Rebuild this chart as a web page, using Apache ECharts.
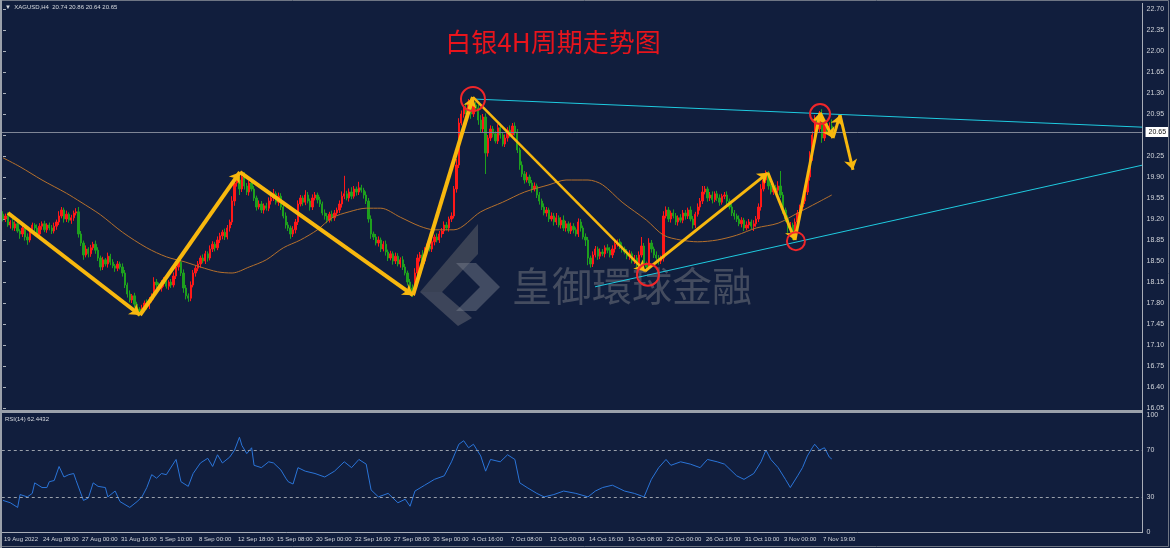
<!DOCTYPE html>
<html><head><meta charset="utf-8">
<script src="https://cdn.jsdelivr.net/npm/echarts@6/dist/echarts.min.js"></script>
<style>html,body{margin:0;padding:0;background:#111e3d}#c{width:1170px;height:548px}</style>
</head><body><div id="c"></div><script>
// ---------- data ----------
const tickLabels = ['19 Aug 2022','24 Aug 08:00','27 Aug 00:00','31 Aug 16:00','5 Sep 10:00','8 Sep 00:00','12 Sep 18:00','15 Sep 08:00','20 Sep 00:00','22 Sep 16:00','27 Sep 08:00','30 Sep 00:00','4 Oct 16:00','7 Oct 08:00','12 Oct 00:00','14 Oct 16:00','19 Oct 08:00','22 Oct 00:00','26 Oct 16:00','31 Oct 10:00','3 Nov 00:00','7 Nov 19:00'];
const firstOpen = 19.28;
const closes = [
19.20,19.25,19.10,19.15,19.05,19.12,19.00,18.95,19.05,18.90,
18.85,19.00,19.10,19.05,18.95,19.08,19.12,19.02,19.10,19.05,
19.00,19.08,19.15,19.25,19.35,19.20,19.28,19.18,19.22,19.30,
19.32,18.95,18.80,18.60,18.70,18.62,18.72,18.78,18.68,18.55,
18.40,18.52,18.45,18.58,18.48,18.42,18.38,18.45,18.40,18.30,
18.10,17.95,17.85,17.92,17.78,17.70,17.65,17.72,17.80,17.75,
17.85,17.92,18.15,18.10,18.05,18.12,18.18,18.08,18.15,18.10,
18.25,18.40,18.48,18.30,18.05,17.92,17.88,18.10,18.30,18.38,
18.45,18.55,18.50,18.62,18.55,18.70,18.78,18.72,18.85,18.92,
18.98,18.90,19.05,19.15,19.50,19.80,19.85,19.70,19.90,19.75,
19.65,19.80,19.70,19.55,19.40,19.45,19.35,19.42,19.38,19.50,
19.55,19.62,19.48,19.58,19.40,19.25,19.10,19.05,18.95,19.02,
19.15,19.45,19.55,19.48,19.60,19.50,19.40,19.55,19.60,19.52,
19.45,19.30,19.25,19.18,19.28,19.22,19.30,19.35,19.45,19.58,
19.62,19.55,19.65,19.58,19.70,19.65,19.72,19.68,19.60,19.50,
19.20,18.95,18.90,18.80,18.85,18.70,18.78,18.65,18.55,18.62,
18.50,18.58,18.45,18.52,18.40,18.30,18.15,18.05,17.98,18.30,
18.55,18.60,18.50,18.68,18.75,18.70,18.82,18.90,18.85,18.95,
19.00,19.10,19.05,19.20,19.25,19.70,20.10,20.80,20.95,21.05,
21.00,21.15,20.95,21.10,21.05,20.85,20.70,20.90,20.30,20.55,
20.70,20.62,20.50,20.72,20.60,20.45,20.55,20.68,20.60,20.75,
20.65,20.35,20.10,19.95,19.85,19.90,19.80,19.70,19.75,19.60,
19.50,19.40,19.30,19.35,19.20,19.25,19.15,19.22,19.10,19.18,
19.05,19.12,19.00,19.08,19.02,18.95,19.15,19.05,18.90,18.85,
18.55,18.45,18.60,18.70,18.58,18.65,18.62,18.72,18.68,18.60,
18.70,18.78,18.82,18.75,18.70,18.65,18.58,18.62,18.50,18.55,
18.45,18.60,18.75,18.45,18.40,18.80,18.70,18.60,18.55,18.50,
18.55,19.25,19.35,19.20,19.30,19.25,19.15,19.22,19.18,19.30,
19.25,19.35,19.20,19.10,19.28,19.40,19.50,19.65,19.70,19.55,
19.60,19.52,19.62,19.55,19.48,19.58,19.60,19.50,19.40,19.30,
19.25,19.20,19.12,19.18,19.05,19.10,19.15,19.08,19.12,19.20,
19.40,19.70,19.85,19.95,19.75,19.65,19.72,19.68,19.75,19.60,
19.35,19.20,19.05,19.10,18.95,19.15,19.30,19.40,19.50,19.65,
19.90,20.25,20.60,20.85,20.70,20.95,20.55,20.80,20.70,20.75,20.65];
// wick lengths in cents above max(open,close) / below min(open,close)
const upperWicks = [
5,4,6,3,5,4,6,3,5,4, 6,5,4,3,6,5,4,5,3,4, 5,6,4,8,5,4,6,3,5,4, 6,8,5,4,6,3,5,4,6,5,
4,5,3,6,4,5,3,5,4,6, 5,4,6,3,5,4,3,5,4,6, 5,4,8,5,4,6,5,4,3,5, 6,10,5,4,6,5,4,6,5,4,
5,4,6,5,4,6,5,4,6,5, 4,6,5,4,8,6,10,5,6,8, 5,4,6,5,4,6,5,4,5,6, 5,8,4,6,5,4,6,5,4,6,
5,6,5,4,8,5,4,6,5,4, 5,4,6,5,4,6,5,4,6,8, 30,5,6,8,5,4,10,5,4,6, 5,6,4,5,6,4,5,6,4,5,
4,6,5,4,6,5,4,5,6,8, 6,5,8,5,4,6,5,4,6,5, 5,6,5,4,6,5,10,8,6,5, 8,5,6,10,5,6,8,5,6,5,
6,5,4,6,5,4,6,5,8,5, 6,5,4,6,5,8,4,5,6,4, 5,4,6,5,4,6,5,8,4,5, 8,5,4,6,5,4,6,5,4,6,
5,4,6,5,4,6,5,4,6,5, 6,5,4,5,6,4,5,6,4,5, 5,6,15,5,4,8,5,4,6,5, 4,8,6,5,4,6,5,4,6,5,
5,4,6,5,4,6,5,10,5,4, 5,6,4,5,6,4,5,6,4,5, 5,4,6,5,4,6,5,4,6,5, 6,8,5,6,5,4,6,5,8,25,
5,4,6,5,4,6,5,4,6,5, 6,8,6,8,5,5,8,6,5,6,11];
const lowerWicks = [
4,5,3,6,4,5,3,8,5,6, 8,4,5,6,4,5,6,4,5,4, 5,4,6,5,4,6,5,4,6,5, 4,6,5,8,4,6,5,4,6,5,
6,5,4,6,5,4,6,5,4,6, 5,6,4,5,6,4,7,5,4,6, 5,4,6,5,4,6,5,4,6,5, 4,5,6,5,8,6,6,5,4,6,
5,6,4,5,6,4,5,6,4,5, 6,5,4,6,5,8,6,10,5,6, 5,6,4,5,6,4,5,6,4,5, 6,5,4,6,5,4,6,5,8,5,
6,5,4,6,5,4,6,5,4,6, 5,4,6,5,4,6,5,4,5,6, 5,4,6,5,4,6,5,4,6,5, 6,8,5,4,6,5,4,6,5,4,
6,5,4,6,5,4,6,5,8,6, 5,6,4,5,6,4,5,6,4,5, 6,5,4,6,5,4,6,5,4,6, 5,6,8,5,6,8,6,5,35,6,
5,6,4,5,6,4,5,6,4,5, 6,5,8,5,6,4,5,6,4,5, 6,5,4,6,5,4,6,5,4,6, 5,6,4,5,6,4,5,6,4,10,
12,6,5,4,6,5,4,6,5,4, 5,6,4,5,6,4,5,6,4,5, 6,5,4,6,7,5,6,5,4,6, 5,6,4,5,6,4,5,6,4,5,
6,5,4,6,5,4,6,5,4,6, 5,6,4,5,6,4,5,6,4,5, 6,5,4,6,5,4,6,5,8,5, 5,6,4,5,6,4,5,6,4,5,
6,5,8,5,10,6,5,4,6,5, 5,6,8,5,10,6,8,5,6,5,1];
// moving average (bar index, price)
const maIdx = [0,7,16,26,32,40,49,59,67,75,81,88,94,101,108,115,122,129,135,142,149,155,163,171,177,185,196,205,214,224,231,240,246,254,264,271,278,285,293,301,309,318,326,334,340];
const maVal = [20.22,20.07,19.85,19.63,19.48,19.27,18.98,18.72,18.57,18.48,18.40,18.32,18.30,18.40,18.52,18.72,18.85,19.02,19.22,19.32,19.38,19.38,19.23,19.08,19.02,19.02,19.32,19.48,19.65,19.77,19.85,19.85,19.77,19.48,19.18,18.93,18.85,18.82,18.85,18.93,19.05,19.13,19.30,19.47,19.60];
// RSI(14) (bar index, value)
const rsiIdx = [0,3,6,7,10,12,13,16,18,19,21,23,25,27,29,30,33,35,37,39,42,43,46,48,52,55,57,59,61,63,65,67,71,73,76,78,81,84,86,88,90,93,95,97,98,100,102,103,106,109,111,114,116,117,119,121,124,128,132,136,140,143,146,149,151,154,158,162,165,167,169,173,177,181,184,187,189,191,193,196,198,200,204,207,210,212,215,219,222,226,230,235,240,243,246,250,255,259,263,266,269,272,274,278,282,286,289,293,296,301,304,308,311,313,315,318,321,323,326,328,330,332,333,335,337,339,340];
const rsiVal = [27,25,21,32,30,33,42,38,38,43,44,56,47,49,50,44,27,29,42,39,38,30,35,26,21,26,30,38,49,46,50,49,62,43,39,50,59,63,56,66,59,64,70,81,74,67,72,57,55,60,59,53,46,43,41,55,52,50,47,52,60,55,62,58,36,30,33,25,28,22,35,40,45,48,60,75,78,72,75,65,52,62,60,66,62,42,38,33,30,32,35,33,30,35,38,40,35,33,30,45,55,62,57,60,58,55,62,60,58,48,45,50,60,70,62,55,45,38,48,55,65,72,75,70,72,64,62.44];
const rsiLevels = [70, 30];
const rsiAxisLabels = [100, 70, 30, 0];
// hand-drawn annotations (bar index, price)
const zigIdx = [2.05,56.2,97.2,168.2,192.8,263.4,313.8,324.9,335.2,340.5,343.4,348.7];
const zigPrice = [19.30,17.60,19.98,17.93,21.23,18.33,19.97,18.85,20.97,20.55,20.93,20.02];
const ringIdx = [192.8,264.6,325.3,335.2];
const ringPrice = [21.20,18.27,18.83,20.95];
const trendUpper = [[192.8,21.20],[467.7,20.73]];
const trendLower = [[242.9,18.07],[467.7,20.10]];
const lastPrice = 20.65;
const headerText = '\u25BC  XAGUSD,H4  20.74 20.86 20.64 20.65';
const rsiLabel = 'RSI(14) 62.4432';
const titleText = '白银4H周期走势图';
const watermarkText = '皇御環球金融';

// ---------- layout / style ----------
const dx = 2.4375, slotCount = 468;
const gridLeft = 3 - dx / 2, gridWidth = slotCount * dx;
const zigWidths = [4,4,4,4,2.5,3,3,3,3,3,3];
const ringSizes = [24,22,18,20];
const smallFont = "'Liberation Sans', sans-serif";
const axisFont = {color:'#d2d5db', fontSize:7, fontFamily: smallFont};

const candles = closes.map((c, i) => {
  const o = i === 0 ? firstOpen : closes[i - 1];
  const hi = Math.max(o, c) + upperWicks[i] / 100;
  const lo = Math.min(o, c) - lowerWicks[i] / 100;
  return [o, c, +lo.toFixed(2), +hi.toFixed(2)];
});
const categories = Array.from({length: slotCount}, (_, i) => String(i));
const showTick = (idx) => idx % 16 === 0 && idx / 16 < tickLabels.length;
const zigSegs = [];
for (let k = 0; k < zigIdx.length - 1; k++) {
  zigSegs.push({coords: [[zigIdx[k], zigPrice[k]], [zigIdx[k + 1], zigPrice[k + 1]]], lineStyle: {width: zigWidths[k]}});
}

const chart = echarts.init(document.getElementById('c'));
chart.setOption({
  backgroundColor: '#111e3d',
  animation: false,
  grid: [
    {left: gridLeft, width: gridWidth, top: 6, height: 402},
    {left: gridLeft, width: gridWidth, top: 415, height: 117}
  ],
  xAxis: [
    {type: 'category', gridIndex: 0, data: categories, show: false},
    {type: 'category', gridIndex: 1, data: categories,
      axisLine: {lineStyle: {color: '#a9aeb8'}},
      axisTick: {alignWithLabel: true, interval: showTick, length: 3, lineStyle: {color: '#c9cdd4'}},
      axisLabel: {interval: showTick, formatter: (v, idx) => tickLabels[idx / 16] || '', align: 'left', margin: 4, padding: [0, 0, 0, 1], hideOverlap: false, showMinLabel: true,
        color: '#d2d5db', fontSize: 6, fontFamily: smallFont},
      splitLine: {show: false}},
    {type: 'value', gridIndex: 0, min: -0.5, max: slotCount - 0.5, show: false},
    {type: 'value', gridIndex: 1, min: -0.5, max: slotCount - 0.5, show: false}
  ],
  yAxis: [
    {type: 'value', gridIndex: 0, position: 'right', min: 16.05, max: 22.75, interval: 0.35,
      splitLine: {show: false}, axisLine: {show: false},
      axisTick: {show: true, length: 3, lineStyle: {color: '#aab0ba'}},
      axisLabel: Object.assign({margin: 4, showMaxLabel: false, formatter: v => v.toFixed(2)}, axisFont)},
    {type: 'value', gridIndex: 1, position: 'right', min: 0, max: 100, interval: 10,
      splitLine: {show: false}, axisLine: {show: false}, axisTick: {show: false},
      axisLabel: Object.assign({margin: 4, formatter: v => rsiAxisLabels.includes(v) ? String(v) : ''}, axisFont)}
  ],
  series: [
    {type: 'candlestick', xAxisIndex: 0, yAxisIndex: 0, data: candles, barWidth: 1.8,
      itemStyle: {color: '#ff1818', color0: '#1ea01e', borderColor: '#ff1818', borderColor0: '#1ea01e', borderWidth: 1},
      markLine: {symbol: 'none', silent: true, animation: false,
        lineStyle: {color: '#7f8696', width: 1, type: 'solid'},
        label: {position: 'end', formatter: lastPrice.toFixed(2), backgroundColor: '#ffffff', color: '#111', fontSize: 7, padding: [2, 3, 1, 3], distance: 3, fontFamily: smallFont},
        data: [{yAxis: lastPrice}]}},
    {type: 'line', xAxisIndex: 2, yAxisIndex: 0, data: maIdx.map((x, k) => [x, maVal[k]]), showSymbol: false, smooth: 0.3,
      lineStyle: {color: '#b5702c', width: 1}, z: 3},
    {type: 'lines', coordinateSystem: 'cartesian2d', xAxisIndex: 2, yAxisIndex: 0, data: [{coords: trendUpper}, {coords: trendLower}],
      lineStyle: {color: '#1fcbe0', width: 1, opacity: 1}, z: 4},
    {type: 'lines', coordinateSystem: 'cartesian2d', xAxisIndex: 2, yAxisIndex: 0, data: zigSegs,
      symbol: ['none', 'arrow'], symbolSize: 10, lineStyle: {color: '#f8b80e', opacity: 1}, z: 5},
    {type: 'scatter', xAxisIndex: 2, yAxisIndex: 0, data: ringIdx.map((x, k) => ({value: [x, ringPrice[k]], symbolSize: ringSizes[k]})),
      itemStyle: {color: 'rgba(0,0,0,0)', borderColor: '#f0262a', borderWidth: 2, opacity: 1}, z: 6},
    {type: 'line', xAxisIndex: 3, yAxisIndex: 1, data: rsiIdx.map((x, k) => [x, rsiVal[k]]), showSymbol: false,
      lineStyle: {color: '#2a74d8', width: 1},
      markLine: {symbol: 'none', silent: true, label: {show: false},
        lineStyle: {color: '#9aa0aa', width: 1, type: [3, 3]},
        data: rsiLevels.map(v => ({yAxis: v}))}}
  ],
  graphic: [
    {type: 'polygon', shape: {points: [[478,224],[478,254],[442,292],[420,292]]}, style: {fill: 'rgba(85,88,100,0.6)'}, z: 0},
    {type: 'polygon', shape: {points: [[420,292],[442,292],[472,318],[458,326]]}, style: {fill: 'rgba(105,108,120,0.5)'}, z: 0},
    {type: 'polygon', shape: {points: [[456,263],[476,263],[500,287],[476,311],[456,311],[480,287]]}, style: {fill: 'rgba(125,130,145,0.45)'}, z: 0},
    {type: 'text', x: 512, y: 286, style: {text: watermarkText, fill: 'rgba(120,122,130,0.5)', font: '40px "Noto Sans CJK SC"', textVerticalAlign: 'middle'}, z: 0},
    {type: 'text', x: 553, y: 42, style: {text: titleText, fill: '#e8141c', font: '26px "Noto Sans CJK SC"', textAlign: 'center', textVerticalAlign: 'middle'}, z: 10},
    {type: 'text', x: 5, y: 7, style: {text: headerText, fill: '#d8dbe0', font: '6px ' + smallFont, textVerticalAlign: 'middle'}, z: 10},
    {type: 'text', x: 5, y: 419, style: {text: rsiLabel, fill: '#d8dbe0', font: '6px ' + smallFont, textVerticalAlign: 'middle'}, z: 10},
    {type: 'rect', shape: {x: 0, y: 410, width: 1143, height: 3}, style: {fill: '#9ba1ab'}, z: 10},
    {type: 'line', shape: {x1: 1142.5, y1: 3, x2: 1142.5, y2: 533}, style: {stroke: '#a9aeb8', lineWidth: 1}, z: 10},
    {type: 'rect', shape: {x: 0.5, y: 0.5, width: 1168, height: 546}, style: {fill: 'none', stroke: '#6f7684', lineWidth: 1}, z: 10},
    {type: 'line', shape: {x1: 1, y1: 0, x2: 1, y2: 548}, style: {stroke: '#9aa0aa', lineWidth: 2}, z: 10}
  ]
});
</script></body></html>
